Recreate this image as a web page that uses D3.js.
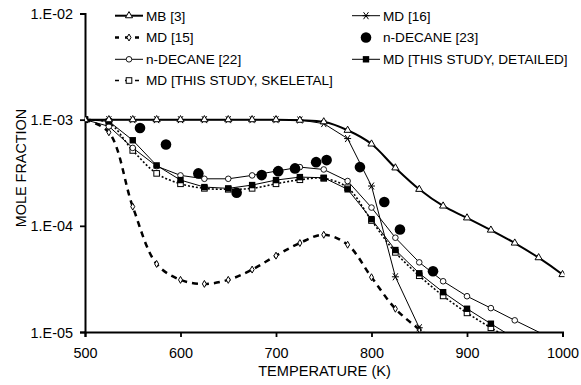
<!DOCTYPE html>
<html>
<head>
<meta charset="utf-8">
<script src="https://cdn.jsdelivr.net/npm/d3@7"></script>
<style>
  body { margin: 0; background: #fff; }
  text { font-family: "Liberation Sans", Arial, sans-serif; fill: #000; }
</style>
</head>
<body>
<div id="chart"></div>
<script>
// temperatures (K) and log10 mole fractions
const tempsA = [500, 525, 550, 575, 600, 625, 650, 675, 700, 725, 750, 775, 800, 825, 850, 875, 900, 925, 950, 975, 1000];

const mb3 = [-3, -3, -3, -3, -3, -3, -3, -3, -3, -3.005, -3.02, -3.10, -3.229, -3.454, -3.656, -3.813, -3.925, -4.04, -4.162, -4.30, -4.459];
const md16T = [500, 525, 550, 575, 600, 625, 650, 675, 700, 725, 750, 775, 800, 825, 850];
const md16 = [-3, -3, -3, -3, -3, -3, -3, -3, -3, -3.003, -3.037, -3.178, -3.625, -4.48, -4.96];
const md15T = [500, 525, 550, 575, 600, 625, 650, 675, 700, 725, 750, 775, 800, 825, 850, 875];
const md15 = [-3, -3.119, -3.819, -4.359, -4.509, -4.547, -4.509, -4.412, -4.281, -4.162, -4.084, -4.178, -4.484, -4.781, -4.975, -5.15];
const dec23T = [557.6, 584.8, 618.7, 658.8, 685, 702.4, 719.9, 742, 753, 787.9, 813.4, 829.8, 864.4];
const dec23 = [-3.079, -3.234, -3.506, -3.688, -3.522, -3.485, -3.459, -3.40, -3.381, -3.447, -3.775, -4.035, -4.428];
const dec22T = [500, 525, 550, 575, 600, 625, 650, 675, 700, 725, 750, 775, 800, 825, 850, 875, 900, 925, 950, 975, 1000];
const dec22 = [-3, -3.063, -3.266, -3.438, -3.525, -3.557, -3.557, -3.525, -3.485, -3.447, -3.469, -3.578, -3.828, -4.112, -4.344, -4.522, -4.663, -4.775, -4.89, -5.0, -5.11];
const detT = [500, 525, 550, 575, 600, 625, 650, 675, 700, 725, 750, 775, 800, 825, 850, 875, 900, 925, 950];
const detailed = [-3, -3.016, -3.194, -3.431, -3.569, -3.635, -3.647, -3.616, -3.569, -3.541, -3.547, -3.656, -3.937, -4.228, -4.447, -4.625, -4.781, -4.922, -5.06];
const skelT = [500, 525, 550, 575, 600, 625, 650, 675, 700, 725, 750, 775, 800, 825, 850, 875, 900, 925, 950];
const skeletal = [-3, -3.03, -3.29, -3.506, -3.604, -3.647, -3.656, -3.647, -3.604, -3.566, -3.553, -3.641, -3.95, -4.25, -4.47, -4.66, -4.82, -4.96, -5.09];

const xTicks = [500, 600, 700, 800, 900, 1000];
const yTicks = [-2, -3, -4, -5];
const yTickLabels = ["1.E-02", "1.E-03", "1.E-04", "1.E-05"];

const W = 581, H = 385;
const plotL = 85, plotR = 562.5, plotT = 13.5, plotB = 332;

const svg = d3.select("#chart").append("svg")
  .attr("width", W).attr("height", H);

const x = d3.scaleLinear().domain([500, 1000]).range([plotL, plotR]);
const y = d3.scaleLinear().domain([-5, -2]).range([plotB, plotT]);

svg.append("defs").append("clipPath").attr("id", "plot")
  .append("rect").attr("x", plotL).attr("y", plotT - 2)
  .attr("width", plotR - plotL + 2).attr("height", plotB - plotT + 2);

// axes
const xAxis = svg.append("g")
  .attr("transform", "translate(0," + plotB + ")")
  .call(d3.axisBottom(x).tickValues(xTicks).tickSize(5).tickPadding(11).tickFormat(d3.format("d")));
const yAxis = svg.append("g")
  .attr("transform", "translate(" + plotL + ",0)")
  .call(d3.axisLeft(y).tickValues(yTicks).tickSize(5).tickPadding(7)
    .tickFormat((d, i) => yTickLabels[i]));
[xAxis, yAxis].forEach(g => {
  g.select(".domain").attr("stroke", "#000").attr("stroke-width", 2);
  g.selectAll(".tick line").attr("stroke", "#000").attr("stroke-width", 1.8);
  g.selectAll("text").style("font-size", "14.4px").attr("fill", "#000");
});
yAxis.selectAll("text").attr("dy", "0.35em");

svg.append("text").attr("x", 324.5).attr("y", 376)
  .attr("text-anchor", "middle").style("font-size", "14.6px").text("TEMPERATURE (K)");
svg.append("text").attr("transform", "translate(26,168) rotate(-90)")
  .attr("text-anchor", "middle").style("font-size", "14.4px").text("MOLE FRACTION");

// marker shapes
function marker(g, type, cx, cy) {
  if (type === "triangle") {
    g.append("path").attr("d", d3.symbol(d3.symbolTriangle, 22)())
      .attr("transform", `translate(${cx},${cy})`)
      .attr("fill", "#fff").attr("stroke", "#000").attr("stroke-width", 1);
  } else if (type === "asterisk") {
    const s = 3.5;
    g.append("path")
      .attr("d", `M${cx - s},${cy}L${cx + s},${cy}M${cx - s * 0.7},${cy - s}L${cx + s * 0.7},${cy + s}M${cx - s * 0.7},${cy + s}L${cx + s * 0.7},${cy - s}`)
      .attr("stroke", "#000").attr("stroke-width", 1).attr("fill", "none");
  } else if (type === "diamond") {
    g.append("path").attr("d", d3.symbol(d3.symbolDiamond, 14)())
      .attr("transform", `translate(${cx},${cy})`)
      .attr("fill", "#fff").attr("stroke", "#000").attr("stroke-width", 1);
  } else if (type === "dot") {
    g.append("circle").attr("cx", cx).attr("cy", cy).attr("r", 5.3).attr("fill", "#000");
  } else if (type === "circle") {
    g.append("circle").attr("cx", cx).attr("cy", cy).attr("r", 2.8)
      .attr("fill", "#fff").attr("stroke", "#000").attr("stroke-width", 0.9);
  } else if (type === "square") {
    g.append("rect").attr("x", cx - 3.2).attr("y", cy - 3.2).attr("width", 6.4).attr("height", 6.4)
      .attr("fill", "#000");
  } else if (type === "opensquare") {
    g.append("rect").attr("x", cx - 2.8).attr("y", cy - 2.8).attr("width", 5.6).attr("height", 5.6)
      .attr("fill", "#fff").attr("stroke", "#000").attr("stroke-width", 1);
  }
}

const series = [
  { name: "MD [15]", t: md15T, v: md15, type: "diamond", width: 2.5, dash: "6,5", curve: d3.curveCatmullRom },
  { name: "MD [THIS STUDY, SKELETAL]", t: skelT, v: skeletal, type: "opensquare", width: 1.6, dash: "2,2", curve: d3.curveCatmullRom },
  { name: "n-DECANE [22]", t: dec22T, v: dec22, type: "circle", width: 1, dash: null, curve: d3.curveLinear },
  { name: "MD [THIS STUDY, DETAILED]", t: detT, v: detailed, type: "square", width: 1, dash: null, curve: d3.curveLinear },
  { name: "MD [16]", t: md16T, v: md16, type: "asterisk", width: 1, dash: null, curve: d3.curveLinear },
  { name: "MB [3]", t: tempsA, v: mb3, type: "triangle", width: 2, dash: null, curve: d3.curveCatmullRom },
  { name: "n-DECANE [23]", t: dec23T, v: dec23, type: "dot", width: 0, dash: null, curve: null }
];

const plot = svg.append("g").attr("clip-path", "url(#plot)");
series.forEach(s => {
  const pts = s.t.map((t, i) => [t, s.v[i]]);
  if (s.curve) {
    plot.append("path")
      .attr("d", d3.line().x(d => x(d[0])).y(d => y(d[1])).curve(s.curve)(pts))
      .attr("fill", "none").attr("stroke", "#000")
      .attr("stroke-width", s.width)
      .attr("stroke-dasharray", s.dash);
  }
  const mg = plot.append("g");
  pts.filter(d => d[1] > -4.99).forEach(d => marker(mg, s.type, x(d[0]), y(d[1])));
});

// legend
const legendItems = [
  { s: "MB [3]", col: 0, row: 0 },
  { s: "MD [16]", col: 1, row: 0 },
  { s: "MD [15]", col: 0, row: 1 },
  { s: "n-DECANE [23]", col: 1, row: 1 },
  { s: "n-DECANE [22]", col: 0, row: 2 },
  { s: "MD [THIS STUDY, DETAILED]", col: 1, row: 2 },
  { s: "MD [THIS STUDY, SKELETAL]", col: 0, row: 3 }
];
const colX = [115, 352];
const rowY = [15.7, 37.5, 59.3, 80.5];
const leg = svg.append("g");
legendItems.forEach(item => {
  const s = series.find(d => d.name === item.s);
  const lx = colX[item.col], ly = rowY[item.row];
  if (s.curve) {
    leg.append("line").attr("x1", lx).attr("x2", lx + 28).attr("y1", ly).attr("y2", ly)
      .attr("stroke", "#000").attr("stroke-width", s.width)
      .attr("stroke-dasharray", s.dash ? "4,6" : null);
  }
  marker(leg, s.type, lx + 14, ly);
  leg.append("text").attr("x", lx + 31).attr("y", ly).attr("dy", "0.36em")
    .style("font-size", "13.6px").text(item.s);
});
</script>
</body>
</html>
